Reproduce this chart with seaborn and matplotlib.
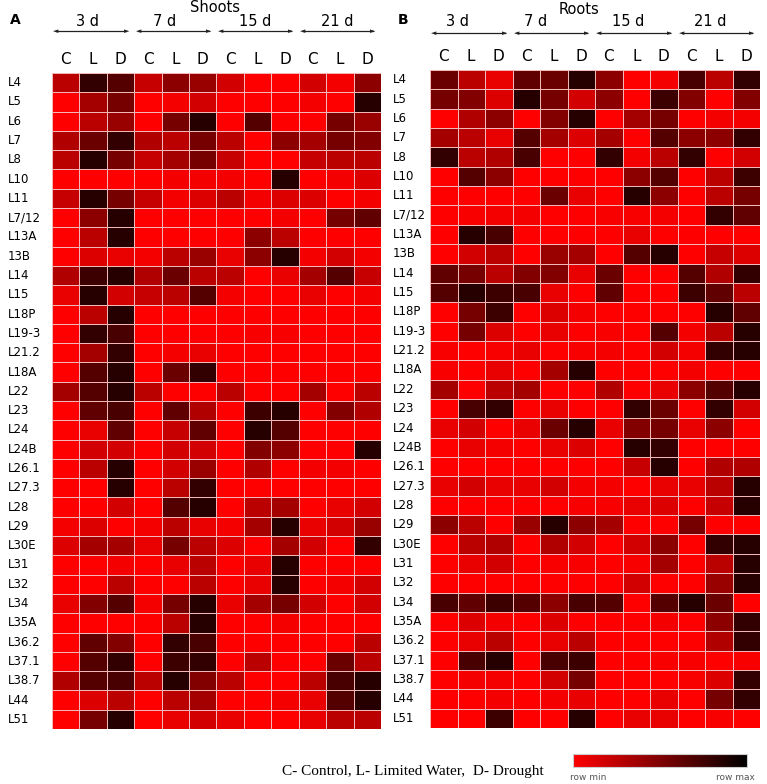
import numpy as np
import pandas as pd
import matplotlib
matplotlib.use('Agg')
import matplotlib.pyplot as plt
import seaborn as sns
from matplotlib.colors import LinearSegmentedColormap, Normalize
from matplotlib.cm import ScalarMappable

# row / column labels
lines = ['L4', 'L5', 'L6', 'L7', 'L8', 'L10', 'L11', 'L7/12', 'L13A', '13B', 'L14', 'L15',
         'L18P', 'L19-3', 'L21.2', 'L18A', 'L22', 'L23', 'L24', 'L24B', 'L26.1', 'L27.3',
         'L28', 'L29', 'L30E', 'L31', 'L32', 'L34', 'L35A', 'L36.2', 'L37.1', 'L38.7',
         'L44', 'L51']
days = ['3 d', '7 d', '15 d', '21 d']
treat = ['C', 'L', 'D']

# row-scaled expression (0 = row min, 1 = row max), columns 3d C L D, 7d C L D, 15d C L D, 21d C L D
shoots = [
    [0.30, 0.90, 0.75, 0.25, 0.50, 0.45, 0.20, 0.00, 0.00, 0.20, 0.05, 0.50],
    [0.00, 0.40, 0.60, 0.00, 0.05, 0.20, 0.00, 0.00, 0.00, 0.05, 0.00, 0.95],
    [0.00, 0.30, 0.45, 0.00, 0.60, 0.95, 0.00, 0.75, 0.00, 0.00, 0.60, 0.45],
    [0.35, 0.65, 0.90, 0.35, 0.30, 0.60, 0.30, 0.00, 0.50, 0.40, 0.60, 0.55],
    [0.30, 0.95, 0.60, 0.25, 0.40, 0.60, 0.25, 0.00, 0.00, 0.25, 0.30, 0.30],
    [0.00, 0.00, 0.00, 0.00, 0.05, 0.05, 0.05, 0.00, 0.95, 0.00, 0.05, 0.15],
    [0.25, 0.95, 0.60, 0.25, 0.05, 0.15, 0.30, 0.05, 0.15, 0.15, 0.00, 0.05],
    [0.00, 0.50, 0.95, 0.00, 0.00, 0.00, 0.00, 0.00, 0.05, 0.00, 0.60, 0.70],
    [0.00, 0.30, 0.95, 0.00, 0.00, 0.00, 0.00, 0.50, 0.30, 0.00, 0.00, 0.00],
    [0.00, 0.15, 0.10, 0.05, 0.30, 0.45, 0.10, 0.50, 0.95, 0.05, 0.20, 0.05],
    [0.35, 0.85, 0.95, 0.35, 0.65, 0.30, 0.30, 0.00, 0.10, 0.40, 0.75, 0.25],
    [0.10, 0.95, 0.20, 0.25, 0.30, 0.75, 0.05, 0.00, 0.00, 0.10, 0.00, 0.05],
    [0.00, 0.30, 0.95, 0.00, 0.00, 0.00, 0.00, 0.00, 0.00, 0.00, 0.00, 0.00],
    [0.00, 0.90, 0.80, 0.00, 0.00, 0.00, 0.00, 0.03, 0.03, 0.00, 0.00, 0.00],
    [0.00, 0.40, 0.90, 0.00, 0.05, 0.10, 0.00, 0.00, 0.00, 0.00, 0.00, 0.00],
    [0.00, 0.75, 0.95, 0.00, 0.65, 0.90, 0.00, 0.00, 0.00, 0.00, 0.00, 0.00],
    [0.40, 0.75, 0.95, 0.30, 0.00, 0.00, 0.30, 0.00, 0.00, 0.40, 0.00, 0.30],
    [0.00, 0.70, 0.80, 0.00, 0.70, 0.35, 0.00, 0.85, 0.95, 0.00, 0.55, 0.35],
    [0.00, 0.10, 0.70, 0.00, 0.25, 0.70, 0.00, 0.95, 0.75, 0.00, 0.00, 0.00],
    [0.00, 0.20, 0.20, 0.00, 0.20, 0.20, 0.00, 0.55, 0.50, 0.00, 0.00, 0.95],
    [0.00, 0.30, 0.95, 0.00, 0.20, 0.45, 0.00, 0.35, 0.00, 0.05, 0.05, 0.00],
    [0.00, 0.00, 0.95, 0.00, 0.30, 0.90, 0.00, 0.00, 0.00, 0.00, 0.00, 0.00],
    [0.00, 0.00, 0.20, 0.00, 0.75, 0.95, 0.00, 0.30, 0.40, 0.00, 0.10, 0.20],
    [0.05, 0.15, 0.00, 0.05, 0.30, 0.10, 0.05, 0.40, 0.95, 0.10, 0.20, 0.45],
    [0.15, 0.40, 0.40, 0.10, 0.60, 0.30, 0.15, 0.00, 0.40, 0.20, 0.00, 0.90],
    [0.00, 0.00, 0.05, 0.00, 0.10, 0.30, 0.00, 0.10, 0.95, 0.00, 0.00, 0.00],
    [0.00, 0.00, 0.30, 0.00, 0.00, 0.30, 0.00, 0.10, 0.95, 0.00, 0.05, 0.20],
    [0.10, 0.55, 0.75, 0.05, 0.60, 0.95, 0.10, 0.40, 0.60, 0.20, 0.00, 0.20],
    [0.00, 0.00, 0.00, 0.00, 0.30, 0.95, 0.00, 0.00, 0.05, 0.00, 0.00, 0.00],
    [0.00, 0.70, 0.55, 0.00, 0.90, 0.80, 0.00, 0.00, 0.00, 0.00, 0.00, 0.30],
    [0.00, 0.75, 0.90, 0.00, 0.85, 0.90, 0.00, 0.30, 0.00, 0.00, 0.65, 0.30],
    [0.35, 0.75, 0.80, 0.30, 0.95, 0.55, 0.30, 0.00, 0.00, 0.30, 0.80, 0.95],
    [0.00, 0.15, 0.30, 0.00, 0.30, 0.40, 0.00, 0.00, 0.05, 0.10, 0.75, 0.95],
    [0.00, 0.60, 0.95, 0.00, 0.10, 0.20, 0.10, 0.00, 0.00, 0.10, 0.30, 0.30],
]

roots = [
    [0.65, 0.30, 0.10, 0.70, 0.65, 0.95, 0.50, 0.00, 0.05, 0.80, 0.30, 0.90],
    [0.60, 0.55, 0.15, 0.95, 0.60, 0.20, 0.50, 0.00, 0.85, 0.55, 0.00, 0.55],
    [0.00, 0.35, 0.50, 0.00, 0.55, 0.95, 0.00, 0.40, 0.60, 0.00, 0.05, 0.05],
    [0.40, 0.30, 0.10, 0.75, 0.40, 0.15, 0.40, 0.00, 0.75, 0.50, 0.50, 0.90],
    [0.90, 0.30, 0.35, 0.80, 0.00, 0.00, 0.90, 0.05, 0.30, 0.90, 0.00, 0.20],
    [0.00, 0.75, 0.50, 0.00, 0.00, 0.00, 0.00, 0.50, 0.75, 0.00, 0.30, 0.85],
    [0.00, 0.00, 0.00, 0.00, 0.65, 0.10, 0.00, 0.95, 0.50, 0.00, 0.30, 0.60],
    [0.00, 0.03, 0.05, 0.05, 0.00, 0.00, 0.03, 0.03, 0.05, 0.00, 0.90, 0.70],
    [0.00, 0.95, 0.80, 0.00, 0.00, 0.00, 0.00, 0.10, 0.00, 0.00, 0.00, 0.00],
    [0.00, 0.20, 0.30, 0.00, 0.45, 0.40, 0.00, 0.75, 0.95, 0.00, 0.25, 0.15],
    [0.70, 0.60, 0.30, 0.55, 0.55, 0.10, 0.65, 0.00, 0.00, 0.75, 0.35, 0.90],
    [0.75, 0.95, 0.85, 0.80, 0.10, 0.00, 0.70, 0.00, 0.00, 0.85, 0.70, 0.30],
    [0.00, 0.60, 0.85, 0.00, 0.15, 0.05, 0.00, 0.00, 0.00, 0.00, 0.95, 0.70],
    [0.00, 0.60, 0.15, 0.00, 0.10, 0.00, 0.03, 0.00, 0.75, 0.05, 0.30, 0.95],
    [0.03, 0.00, 0.03, 0.10, 0.00, 0.03, 0.05, 0.00, 0.20, 0.05, 0.90, 0.95],
    [0.03, 0.00, 0.10, 0.00, 0.40, 0.95, 0.00, 0.00, 0.00, 0.05, 0.00, 0.00],
    [0.40, 0.00, 0.30, 0.40, 0.00, 0.00, 0.35, 0.00, 0.10, 0.50, 0.75, 0.95],
    [0.00, 0.80, 0.90, 0.00, 0.10, 0.00, 0.00, 0.90, 0.65, 0.00, 0.90, 0.20],
    [0.10, 0.20, 0.00, 0.10, 0.65, 0.95, 0.10, 0.55, 0.60, 0.10, 0.50, 0.00],
    [0.00, 0.10, 0.05, 0.00, 0.10, 0.15, 0.00, 0.95, 0.90, 0.00, 0.00, 0.00],
    [0.00, 0.00, 0.00, 0.00, 0.00, 0.00, 0.00, 0.25, 0.95, 0.00, 0.35, 0.35],
    [0.10, 0.20, 0.10, 0.10, 0.20, 0.05, 0.05, 0.00, 0.10, 0.10, 0.30, 0.95],
    [0.00, 0.00, 0.00, 0.00, 0.00, 0.03, 0.03, 0.10, 0.15, 0.00, 0.25, 0.95],
    [0.50, 0.30, 0.00, 0.45, 0.95, 0.50, 0.40, 0.00, 0.00, 0.60, 0.00, 0.00],
    [0.00, 0.30, 0.35, 0.00, 0.35, 0.20, 0.00, 0.20, 0.50, 0.00, 0.90, 0.95],
    [0.00, 0.10, 0.20, 0.00, 0.03, 0.03, 0.00, 0.03, 0.40, 0.00, 0.30, 0.95],
    [0.00, 0.00, 0.00, 0.00, 0.00, 0.00, 0.00, 0.20, 0.00, 0.00, 0.45, 0.95],
    [0.80, 0.70, 0.85, 0.75, 0.50, 0.80, 0.75, 0.00, 0.75, 0.95, 0.65, 0.00],
    [0.00, 0.15, 0.05, 0.00, 0.15, 0.00, 0.00, 0.00, 0.05, 0.00, 0.50, 0.90],
    [0.00, 0.10, 0.30, 0.00, 0.10, 0.30, 0.00, 0.00, 0.00, 0.00, 0.35, 0.90],
    [0.00, 0.80, 0.95, 0.00, 0.80, 0.85, 0.00, 0.00, 0.03, 0.03, 0.00, 0.03],
    [0.00, 0.05, 0.05, 0.00, 0.20, 0.60, 0.00, 0.00, 0.00, 0.03, 0.15, 0.90],
    [0.00, 0.00, 0.05, 0.00, 0.05, 0.10, 0.00, 0.00, 0.10, 0.00, 0.60, 0.90],
    [0.00, 0.00, 0.85, 0.00, 0.00, 0.95, 0.00, 0.10, 0.10, 0.00, 0.03, 0.00],
]

cols = [f'{d} {t}' for d in days for t in treat]
cmap = LinearSegmentedColormap.from_list('rowscale', ['#ff0000', '#000000'])

fig = plt.figure(figsize=(7.67, 7.84), dpi=100)
W, H = 767, 784

def px_axes(x0, y0, x1, y1):
    return fig.add_axes([x0 / W, 1 - y1 / H, (x1 - x0) / W, (y1 - y0) / H])

# layout per panel (pixels): heatmap box, label x, letter x, title pos, day label x, arrow y
panels = [
    dict(vals=shoots, title='Shoots', letter='A', box=(52, 73, 381, 729), lab_x=8,
         letter_x=10, title_xy=(215, 8), day_x=[87, 165, 255, 337], arrow_y=31),
    dict(vals=roots, title='Roots', letter='B', box=(430, 70, 760, 728), lab_x=393,
         letter_x=398, title_xy=(579, 10), day_x=[458, 536, 628, 710], arrow_y=33),
]

for p in panels:
    box = p['box']
    ax = px_axes(*box)
    df = pd.DataFrame(p['vals'], index=lines, columns=cols)
    sns.heatmap(df, ax=ax, cmap=cmap, vmin=0, vmax=1.12, cbar=False,
                linewidths=0.6, linecolor='#f2b8b8')
    ax.xaxis.tick_top()
    ax.set_xticks(np.arange(12) + 0.5)
    ax.set_xticklabels(treat * 4, fontsize=11, rotation=0)
    ax.set_yticks(np.arange(len(lines)) + 0.5)
    ax.set_yticklabels(lines, fontsize=8.5, rotation=0)
    ax.tick_params(axis='y', length=0, pad=(box[0] - p['lab_x']) * 0.72)
    ax.tick_params(axis='x', length=0, pad=4)
    for lab in ax.get_yticklabels():
        lab.set_horizontalalignment('left')
    ax.set_xlabel('')
    ax.set_ylabel('')

    # double-headed arrows and day labels above each treatment group
    for i, d in enumerate(days):
        x0 = box[0] + (box[2] - box[0]) * (3 * i) / 12 + 4
        x1 = box[0] + (box[2] - box[0]) * (3 * i + 3) / 12 - 8
        ya = 1 - p['arrow_y'] / H
        fig.add_artist(plt.Line2D([x0 / W, x1 / W], [ya, ya], color='#222222', lw=0.9))
        fig.text(x0 / W, ya, '\u25c4', ha='center', va='center', fontsize=5, color='#222222')
        fig.text(x1 / W, ya, '\u25ba', ha='center', va='center', fontsize=5, color='#222222')
        fig.text(p['day_x'][i] / W, 1 - 22 / H, d, ha='center', va='center', fontsize=10.5)
    fig.text(p['title_xy'][0] / W, 1 - p['title_xy'][1] / H, p['title'], ha='center',
             va='center', fontsize=10.5)
    fig.text(p['letter_x'] / W, 1 - 20 / H, p['letter'], ha='left', va='center',
             fontsize=10, fontweight='bold')

# colour key
cax = px_axes(573, 754, 747, 767)
cb = fig.colorbar(ScalarMappable(norm=Normalize(0, 1), cmap=cmap), cax=cax,
                  orientation='horizontal')
cb.set_ticks([])
cb.outline.set_edgecolor('#cccccc')
fig.text(588 / W, 1 - 778 / H, 'row min', ha='center', va='center', fontsize=6.5, color='#555555')
fig.text(735 / W, 1 - 778 / H, 'row max', ha='center', va='center', fontsize=6.5, color='#555555')
fig.text(413 / W, 1 - 772 / H, 'C- Control, L- Limited Water,  D- Drought', ha='center',
         va='center', fontsize=11, family='Liberation Serif')

fig.savefig('out.png', dpi=100)
